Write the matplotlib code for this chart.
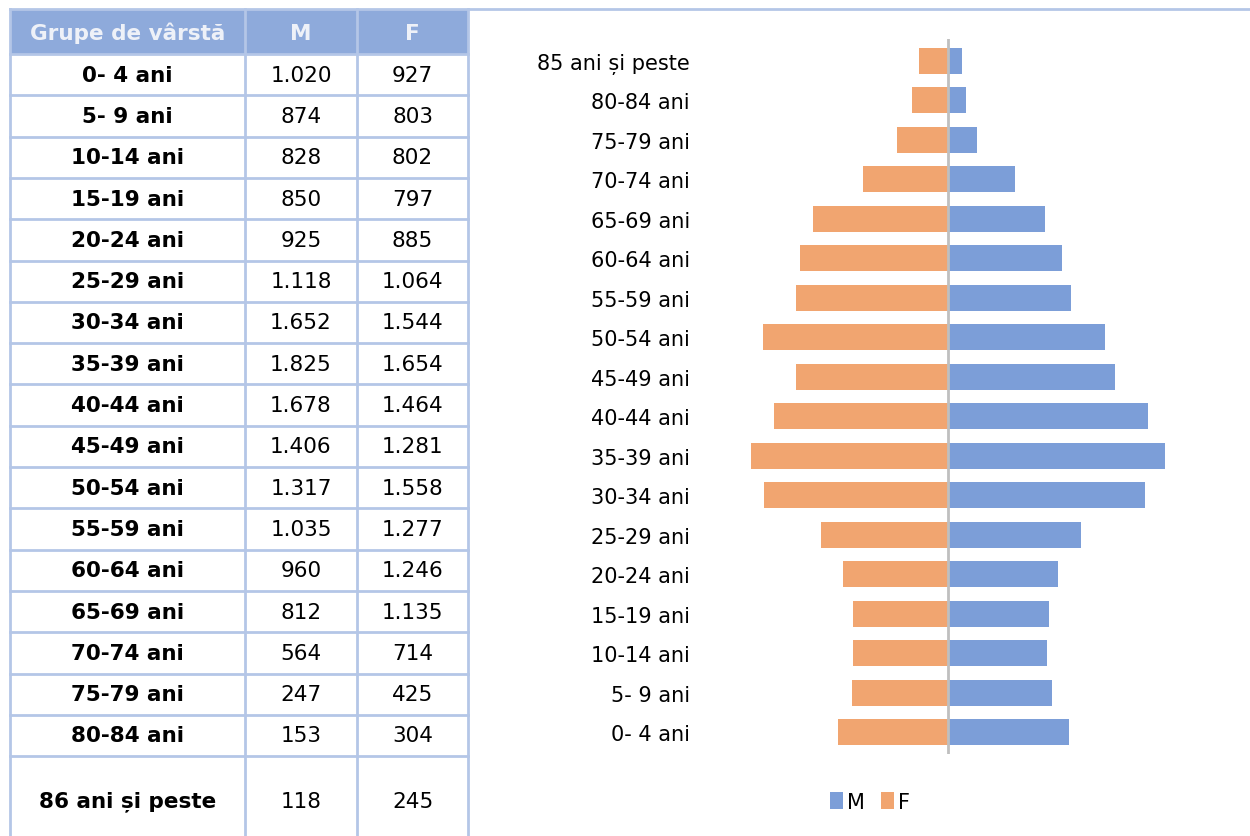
import matplotlib
matplotlib.use('Agg')
import matplotlib.pyplot as plt
import matplotlib.patches as patches

# date: grupe de vârstă, bărbați (M) / femei (F)
GRUPE = ['0- 4 ani', '5- 9 ani', '10-14 ani', '15-19 ani', '20-24 ani', '25-29 ani',
         '30-34 ani', '35-39 ani', '40-44 ani', '45-49 ani', '50-54 ani', '55-59 ani',
         '60-64 ani', '65-69 ani', '70-74 ani', '75-79 ani', '80-84 ani', '86 ani și peste']
ETICHETE_GRAFIC = GRUPE[:-1] + ['85 ani și peste']
M = [1020, 874, 828, 850, 925, 1118, 1652, 1825, 1678, 1406, 1317, 1035, 960, 812,
     564, 247, 153, 118]
F = [927, 803, 802, 797, 885, 1064, 1544, 1654, 1464, 1281, 1558, 1277, 1246, 1135,
     714, 425, 304, 245]
ANTET = ['Grupe de vârstă', 'M', 'F']

W, H = 1250, 837
C_BLUE = '#7C9ED8'
C_ORANGE = '#F1A570'
C_HEAD = '#8EAADB'
C_GRID = '#B4C6E7'
FS_TAB = 15.5


def fmt(v):
    return f'{v:,}'.replace(',', '.')


fig = plt.figure(figsize=(W / 100, H / 100), dpi=100)

# ── tabel (coordonate în pixeli) ──
tab = fig.add_axes([0, 0, 1, 1])
tab.set_xlim(0, W); tab.set_ylim(H, 0); tab.axis('off')
COLS = [10, 245, 357, 468]
HEAD_TOP, HEAD_BOT, ROW_H = 10, 55, 41.3
tab.add_patch(patches.Rectangle((COLS[0], HEAD_TOP), COLS[-1] - COLS[0], HEAD_BOT - HEAD_TOP,
                                fc=C_HEAD, ec='none', zorder=1))
tab.plot([COLS[0], W], [HEAD_TOP, HEAD_TOP], color=C_GRID, lw=2, zorder=3)
for j, txt in enumerate(ANTET):
    tab.text((COLS[j] + COLS[j + 1]) / 2, (HEAD_TOP + HEAD_BOT) / 2 + 1, txt,
             ha='center', va='center', color='#EEF1F8', fontsize=FS_TAB,
             fontweight='bold', family='DejaVu Sans')
rows_y = [HEAD_BOT + i * ROW_H for i in range(len(GRUPE))] + [H + 5]
for i, g in enumerate(GRUPE):
    y0, y1 = rows_y[i], rows_y[i + 1]
    yc = (y0 + y1) / 2 if i < len(GRUPE) - 1 else 802   # ultimul rând e mai înalt
    tab.text((COLS[0] + COLS[1]) / 2, yc, g, ha='center', va='center',
             fontsize=FS_TAB, fontweight='bold', family='DejaVu Sans')
    tab.text((COLS[1] + COLS[2]) / 2, yc, fmt(M[i]), ha='center', va='center',
             fontsize=FS_TAB, family='DejaVu Sans')
    tab.text((COLS[2] + COLS[3]) / 2, yc, fmt(F[i]), ha='center', va='center',
             fontsize=FS_TAB, family='DejaVu Sans')
    tab.plot([COLS[0], COLS[-1]], [y0, y0], color=C_GRID, lw=2, zorder=2)
for x in COLS:
    tab.plot([x, x], [HEAD_TOP, H], color=C_GRID, lw=2, zorder=2)

# ── piramida ──
PX = 0.119                     # pixeli pe persoană
AX_L, AX_R, AX_T, AX_B = 720, 1200, 40, 755
CX = 948
ax = fig.add_axes([AX_L / W, 1 - AX_B / H, (AX_R - AX_L) / W, (AX_B - AX_T) / H])
ax.set_xlim(-(CX - AX_L) / PX, (AX_R - CX) / PX)
pas = (733 - 62) / 17
ax.set_ylim(-(AX_B - 733) / pas, 17 + (62 - AX_T) / pas)
y = list(range(len(GRUPE)))
ax.barh(y, M, height=0.66, color=C_BLUE, label='M', zorder=2)
ax.barh(y, [-v for v in F], height=0.66, color=C_ORANGE, label='F', zorder=2)
ax.axvline(0, color='#BFBFBF', lw=2, zorder=3)
ax.set_yticks(y)
ax.set_yticklabels(ETICHETE_GRAFIC, family='DejaVu Sans', fontsize=15)
ax.tick_params(axis='y', length=0, pad=(AX_L - 690) * 0.72)
ax.set_xticks([])
for s in ax.spines.values():
    s.set_visible(False)
fig.legend(loc='center', bbox_to_anchor=(870 / W, 1 - 803 / H), ncol=2, frameon=False,
           handlelength=0.6, handleheight=0.9, handletextpad=0.2, columnspacing=0.8,
           prop={'family': 'DejaVu Sans', 'size': 15})

fig.savefig('out.png', dpi=100)
